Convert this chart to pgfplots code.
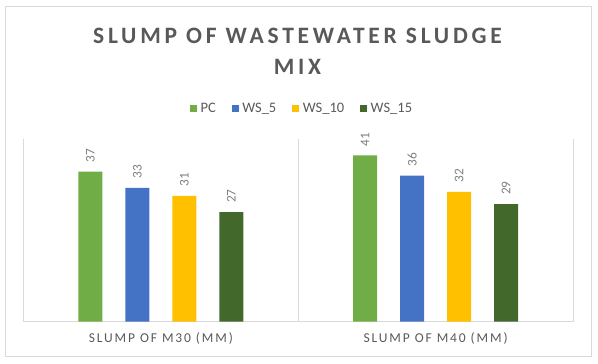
\documentclass[border=0pt]{standalone}
\usepackage{pgfplots}
\pgfplotsset{compat=1.18}
\usepackage{fontspec}
\setmainfont{Carlito}
\newfontfamily\titlefont[LetterSpace=16]{Carlito}
\newfontfamily\labfont[LetterSpace=14]{Carlito}
\definecolor{cPC}{HTML}{70AD47}
\definecolor{cWSa}{HTML}{4472C4}
\definecolor{cWSb}{HTML}{FFC000}
\definecolor{cWSc}{HTML}{43682B}
\definecolor{tcol}{HTML}{595959}
\definecolor{lcol}{HTML}{7F7F7F}
\definecolor{gcol}{HTML}{D9D9D9}
\begin{document}
\begin{tikzpicture}[x=1pt,y=1pt]
\path[use as bounding box] (0,0) rectangle (598,364);
\draw[color=gcol, line width=0.75pt] (5.7,7.3) rectangle (591.5,357.3);
\node[anchor=base, text=tcol, font=\titlefont\bfseries\fontsize{23.5}{28}\selectfont, inner sep=0] at (297.5,320.7) {SLUMP OF WASTEWATER SLUDGE};
\node[anchor=base, text=tcol, font=\titlefont\bfseries\fontsize{23.5}{28}\selectfont, inner sep=0] at (297.5,289) {MIX};
\begin{axis}[
  at={(23.5pt,42.3pt)}, anchor=south west,
  scale only axis, width=549.5pt, height=182.6pt,
  xmin=-0.5, xmax=1.5, ymin=0, ymax=45,
  enlargelimits=false, clip=false,
  axis x line*=bottom, axis y line=none,
  x axis line style={color=gcol, line width=0.75pt, -},
  xtick={0,1},
  xticklabels={SLUMP OF M30 (MM), SLUMP OF M40 (MM)},
  major tick length=0pt,
  xticklabel style={font=\labfont\fontsize{13.5}{16}\selectfont, text=tcol, yshift=-7pt},
  extra x ticks={-0.5,0.5,1.5},
  extra x tick labels={},
  extra x tick style={grid=major, major grid style={color=gcol, line width=0.75pt}},
  ybar=23pt, bar width=24pt,
  nodes near coords,
  /pgf/number format/assume math mode=true,
  nodes near coords style={rotate=90, anchor=west, inner xsep=9pt, inner ysep=0pt, font=\fontsize{13.3}{15}\selectfont, text=lcol},
  legend style={at={(0.507,1.17)}, anchor=center, legend columns=-1, draw=none, fill=none,
    font=\fontsize{14.5}{16}\selectfont, text=tcol,
    /tikz/every even column/.append style={column sep=14pt}},
  legend image code/.code={\fill[#1] (0pt,-3.5pt) rectangle (7pt,3.5pt); \path (7pt,0pt) -- (8.5pt,0pt);},
]
\addplot[fill=cPC, draw=none] coordinates {(0,37) (1,41)};
\addplot[fill=cWSa, draw=none] coordinates {(0,33) (1,36)};
\addplot[fill=cWSb, draw=none] coordinates {(0,31) (1,32)};
\addplot[fill=cWSc, draw=none] coordinates {(0,27) (1,29)};
\legend{PC, WS\_5, WS\_10, WS\_15}
\end{axis}
\end{tikzpicture}
\end{document}
